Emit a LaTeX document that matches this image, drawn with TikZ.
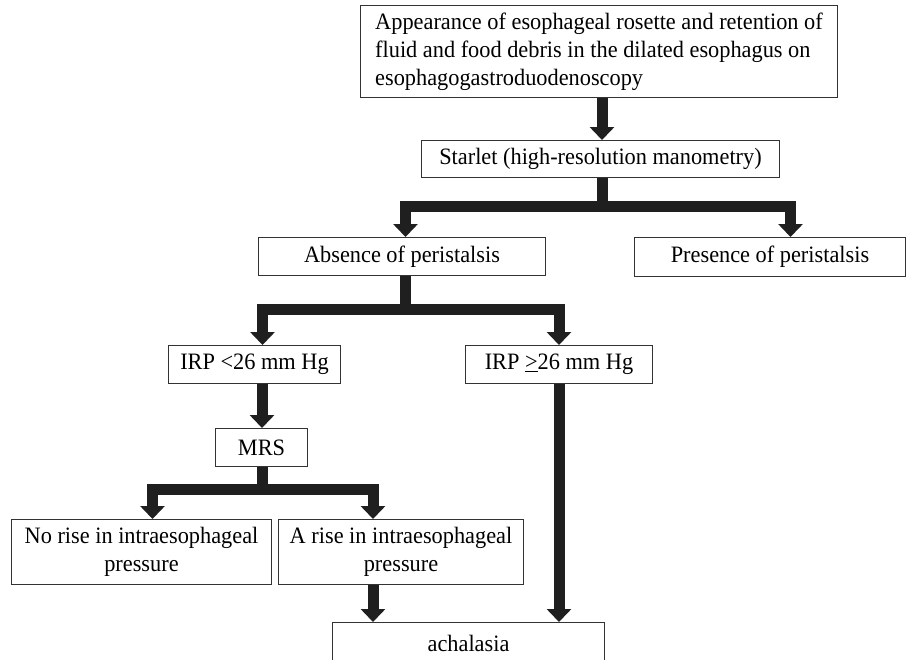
\documentclass[tikz,border=0pt]{standalone}
\usepackage{fontspec}
\setmainfont[FakeStretch=0.95]{Liberation Serif}
\usetikzlibrary{arrows.meta}

\tikzset{
  stepbox/.style={draw=black!80, line width=1pt, inner sep=0pt, anchor=north west,
    font=\fontsize{23.5}{28}\selectfont, align=center},
  flow/.style={line width=11pt, line join=miter, color=black!88,
    -{Triangle[width=24pt,length=13pt]}}
}

\begin{document}
\begin{tikzpicture}[x=1pt,y=-1pt]
\useasboundingbox (0,0) rectangle (908,659);
\clip (0,0) rectangle (908,659);

\node[stepbox, minimum width=477, minimum height=92, align=left]
  (exam) at (360,5)
  {Appearance of esophageal rosette and retention of\\
   fluid and food debris in the dilated esophagus on\\
   esophagogastroduodenoscopy};

\node[stepbox, minimum width=358, minimum height=37] (starlet) at (421,140)
  {Starlet (high-resolution manometry)};

\node[stepbox, minimum width=287, minimum height=38] (absence) at (258,237)
  {Absence of peristalsis};
\node[stepbox, minimum width=271, minimum height=39] (presence) at (634,237)
  {Presence of peristalsis};

\node[stepbox, minimum width=172, minimum height=38] (irplow) at (168,345)
  {IRP <26 mm Hg};
\node[stepbox, minimum width=187, minimum height=38] (irphigh) at (465,345)
  {IRP \underline{>}26 mm Hg};

\node[stepbox, minimum width=92, minimum height=38] (mrs) at (215,428)
  {MRS};

\node[stepbox, minimum width=260, minimum height=65] (norise) at (11,519)
  {No rise in intraesophageal\\ pressure};
\node[stepbox, minimum width=245, minimum height=65] (arise) at (278,519)
  {A rise in intraesophageal\\ pressure};

\node[stepbox, minimum width=272, minimum height=42] (achalasia) at (332,622)
  {achalasia};

% junctions of the branching arrows
\coordinate (j1) at (602,206);
\coordinate (j2) at (405,309);
\coordinate (j3) at (262,489);
\coordinate (j4) at (373,0);

\draw[flow] (exam.south -| j1) -- (starlet.north -| j1);

\draw[flow] (starlet.south -| j1) -- (j1) -| ([xshift=3.5]absence.north);
\draw[flow] (starlet.south -| j1) -- (j1) -| ([xshift=20.5]presence.north);

\draw[flow] (absence.south -| j2) -- (j2) -| ([xshift=8]irplow.north);
\draw[flow] (absence.south -| j2) -- (j2) -| (irphigh.north);

\draw[flow] (irplow.south -| j3) -- (mrs.north -| j3);

\draw[flow] (mrs.south -| j3) -- (j3) -| ([xshift=11]norise.north);
\draw[flow] (mrs.south -| j3) -- (j3) -| (arise.north -| j4);

\draw[flow] (arise.south -| j4) -- (achalasia.north -| j4);
\draw[flow] (irphigh.south) -- (achalasia.north -| irphigh.south);
\end{tikzpicture}
\end{document}
